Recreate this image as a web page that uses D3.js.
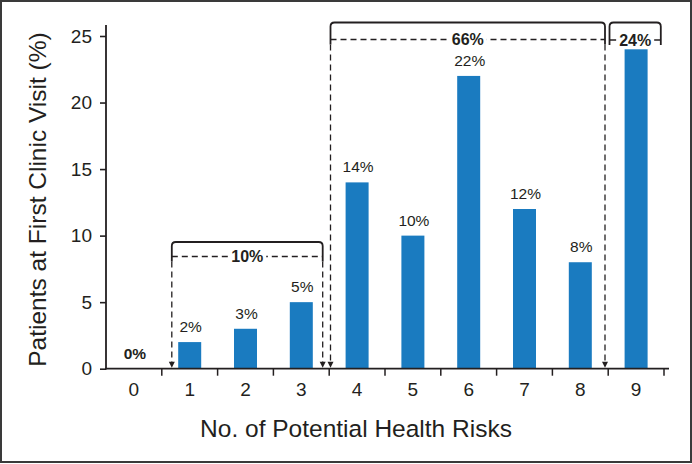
<!DOCTYPE html>
<html><head><meta charset="utf-8">
<script src="https://cdn.jsdelivr.net/npm/d3@7"></script>
<style>
body{margin:0;background:#fff;}
svg{display:block;font-family:"Liberation Sans Narrow","Arial Narrow","Liberation Sans",sans-serif;}
</style></head>
<body><svg id="c" width="692" height="464"></svg>
<script>
// ---- data ----
const categories = ["0","1","2","3","4","5","6","7","8","9"];
const values = [0, 2, 3, 5, 14, 10, 22, 12, 8, 24];
const valueLabels = ["0%","2%","3%","5%","14%","10%","22%","12%","8%","24%"];
const yTicks = [0, 5, 10, 15, 20, 25];
const groupLabels = ["10%", "66%", "24%"];
const groupFrom = ["1", "4", "9"];
const groupTo = ["3", "8", "9"];
const xTitle = "No. of Potential Health Risks";
const yTitle = "Patients at First Clinic Visit (%)";

// ---- layout ----
const W = 692, H = 464;
const svg = d3.select("#c");
const ink = "#231f20";
const barColor = "#1a7bc0";

svg.append("rect").attr("x",1).attr("y",1).attr("width",W-2).attr("height",H-3)
  .attr("fill","#fff").attr("stroke","#3a3a3a").attr("stroke-width",2);

const x = d3.scaleBand().domain(categories).range([106, 664]).padding(0);
const y = d3.scaleLinear().domain([0, 25]).range([368.7, 36]);
const barW = 23;

// bars
svg.selectAll("rect.bar").data(values).join("rect").attr("class","bar")
  .attr("x",(d,i)=>x(categories[i]) + x.bandwidth()/2 - barW/2)
  .attr("y",d=>y(d)).attr("width",barW).attr("height",d=>y(0)-y(d))
  .attr("fill",barColor);

// value labels (a single-category group shows its value in the bracket instead)
const singles = new Set(groupFrom.filter((f,i)=>f===groupTo[i]));
const labelIdx = d3.range(values.length).filter(i=>!singles.has(categories[i]));
svg.selectAll("text.vl").data(labelIdx).join("text").attr("class","vl")
  .attr("x",i=>x(categories[i]) + x.bandwidth()/2 + 1)
  .attr("y",i=>y(values[i])-10)
  .attr("text-anchor","middle").attr("font-size",15.5)
  .attr("font-weight",i=>values[i]===0?"bold":"normal")
  .attr("fill",ink)
  .text(i=>valueLabels[i]);

// y axis
const yAxis = svg.append("g").attr("transform","translate(106,0)")
  .call(d3.axisLeft(y).tickValues(yTicks).tickSize(6).tickPadding(8));
yAxis.select(".domain").remove();
yAxis.selectAll("line").attr("stroke",ink).attr("stroke-width",1.6);
yAxis.selectAll("text").attr("font-size",19).attr("fill",ink)
  .attr("font-family","Liberation Sans Narrow, Arial Narrow, sans-serif");
svg.append("line").attr("x1",106).attr("x2",106).attr("y1",25).attr("y2",y(0)+0.8)
  .attr("stroke",ink).attr("stroke-width",1.8);

// x axis
const xAxis = svg.append("g").attr("transform",`translate(0,${y(0)})`)
  .call(d3.axisBottom(x).tickSize(0).tickPadding(14));
xAxis.select(".domain").remove();
xAxis.selectAll("text").attr("font-size",19).attr("fill",ink)
  .attr("font-family","Liberation Sans Narrow, Arial Narrow, sans-serif");
svg.append("line").attr("x1",105).attr("x2",669).attr("y1",y(0)).attr("y2",y(0))
  .attr("stroke",ink).attr("stroke-width",1.8);
const bounds = categories.slice(1).map(c=>x(c)).concat([x(categories[categories.length-1])+x.bandwidth()]);
svg.selectAll("line.xt").data(bounds).join("line").attr("class","xt")
  .attr("x1",d=>d).attr("x2",d=>d).attr("y1",y(0)).attr("y2",y(0)+7)
  .attr("stroke",ink).attr("stroke-width",1.5);

// titles
svg.append("text").attr("x",356).attr("y",437).attr("text-anchor","middle")
  .attr("font-size",24.5).attr("fill",ink).text(xTitle);
svg.append("text").attr("transform","translate(45.5,199.5) rotate(-90)")
  .attr("text-anchor","middle").attr("font-size",24.5).attr("fill",ink).text(yTitle);

// brackets (layout per group: left/right offsets from band edges, top & dashed levels)
const bracketLayout = [
  {l: 10, r: -6.5, top: 242, mid: 256.5, arrows: true},
  {l: 1.3, r: -3.2, top: 22.5, mid: 39.5, arrows: true},
  {l: 1.3, r: -3.2, top: 22.5, mid: 40, arrows: false}
];
const rad = 4;
groupLabels.forEach((lab, i) => {
  const L = bracketLayout[i];
  const x0 = x(groupFrom[i]) + L.l;
  const x1 = x(groupTo[i]) + x.bandwidth() + L.r;
  const g = svg.append("g");
  const sideBottom = L.mid + 5;
  g.append("path")
    .attr("d",`M${x0},${sideBottom} V${L.top+rad} Q${x0},${L.top} ${x0+rad},${L.top} H${x1-rad} Q${x1},${L.top} ${x1},${L.top+rad} V${sideBottom}`)
    .attr("fill","none").attr("stroke",ink).attr("stroke-width",1.8);
  g.append("line").attr("x1",x0).attr("x2",x1).attr("y1",L.mid).attr("y2",L.mid)
    .attr("stroke",ink).attr("stroke-width",1.3)
    .attr("stroke-dasharray", L.arrows ? "6,4" : null);
  const t = g.append("text").attr("x",(x0+x1)/2).attr("y",L.mid).attr("dy","0.36em")
    .attr("text-anchor","middle").attr("font-size",16).attr("font-weight","bold")
    .attr("fill",ink).text(lab);
  const bb = t.node().getBBox();
  g.insert("rect","text").attr("x",bb.x-3).attr("y",bb.y).attr("width",bb.width+6)
    .attr("height",bb.height).attr("fill","#fff");
  if (L.arrows) {
    [x0, x1].forEach(xx => {
      g.append("line").attr("x1",xx).attr("x2",xx).attr("y1",sideBottom).attr("y2",y(0)-6)
        .attr("stroke",ink).attr("stroke-width",1.3).attr("stroke-dasharray","6,4");
      g.append("path").attr("d",`M${xx-3},${y(0)-7} L${xx+3},${y(0)-7} L${xx},${y(0)-1} Z`)
        .attr("fill",ink);
    });
  }
});
</script></body></html>
